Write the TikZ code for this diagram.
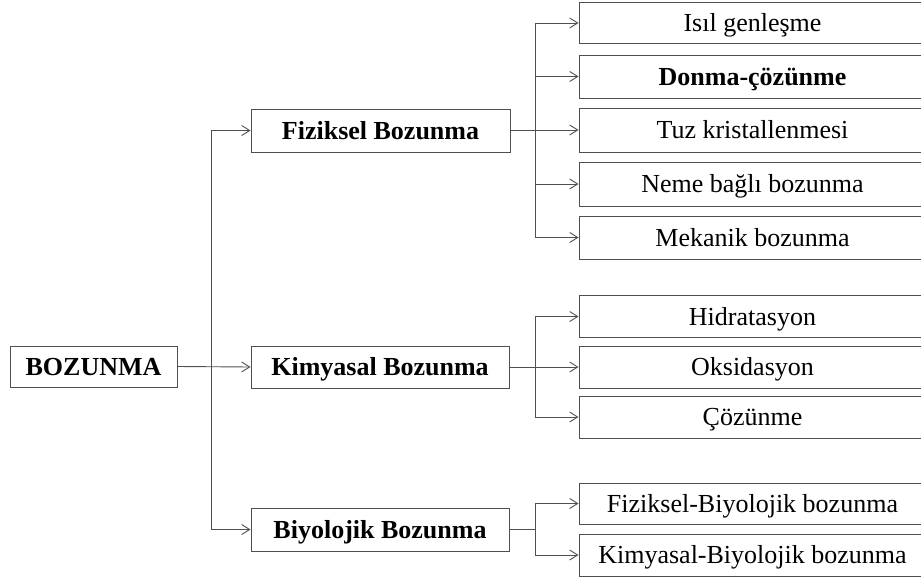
\documentclass[tikz,border=0pt]{standalone}
\usepackage{fontspec}
\setmainfont{Liberation Serif}
\usetikzlibrary{arrows.meta}
\definecolor{linec}{HTML}{505050}
\tikzset{
  box/.style={draw=linec, line width=1pt, rectangle, inner sep=0pt, font=\fontsize{26}{30}\selectfont, text=black, text height=17pt, text depth=-1pt},
  mainbox/.style={box, font=\fontsize{26}{30}\selectfont\bfseries},
  leaf/.style={box, minimum width=347pt},
  conn/.style={draw=linec, line width=0.9pt},
  arr/.style={conn, -{Straight Barb[length=8pt,width=10pt,line width=0.9pt]}}
}
\begin{document}
\begin{tikzpicture}[x=1pt,y=-1pt]
\path[use as bounding box] (0,0) rectangle (921,581);
\clip (0,0) rectangle (921,581);
\fill[white] (0,0) rectangle (921,581);

\node[mainbox, minimum width=167pt, minimum height=41pt] (bz) at (93.5,366.5) {BOZUNMA};
\node[mainbox, minimum width=259pt, minimum height=43pt] (fb) at (380.5,130.5) {Fiziksel Bozunma};
\node[mainbox, minimum width=258pt, minimum height=42pt] (kb) at (380,367) {Kimyasal Bozunma};
\node[mainbox, minimum width=258pt, minimum height=43pt] (bb) at (380,529.5) {Biyolojik Bozunma};

\node[leaf, minimum height=41pt] (c1) at (752.5,23) {Isıl genleşme};
\node[leaf, minimum height=43pt, font=\fontsize{26}{30}\selectfont\bfseries] (c2) at (752.5,76.5) {Donma-çözünme};
\node[leaf, minimum height=44pt] (c3) at (752.5,130) {Tuz kristallenmesi};
\node[leaf, minimum height=44pt] (c4) at (752.5,184) {Neme bağlı bozunma};
\node[leaf, minimum height=43pt] (c5) at (752.5,237.5) {Mekanik bozunma};

\node[leaf, minimum height=42pt] (k1) at (752.5,316.5) {Hidratasyon};
\node[leaf, minimum height=42pt] (k2) at (752.5,367) {Oksidasyon};
\node[leaf, minimum height=42pt] (k3) at (752.5,417) {Çözünme};

\node[leaf, minimum height=41pt] (b1) at (752.5,503.5) {Fiziksel-Biyolojik bozunma};
\node[leaf, minimum height=42pt] (b2) at (752.5,555) {Kimyasal-Biyolojik bozunma};

\coordinate (t) at (211,367);
\draw[arr] (bz.east) -- (kb.west);
\draw[arr] (t) |- (fb.west);
\draw[arr] (t) |- (bb.west);

\coordinate (f) at (535,130.5);
\draw[conn] (fb.east) -- (f);
\foreach \n in {c1,c2,c3,c4,c5} \draw[arr] (f) |- (\n.west);

\coordinate (k) at (535,367);
\draw[conn] (kb.east) -- (k);
\foreach \n in {k1,k2,k3} \draw[arr] (k) |- (\n.west);

\coordinate (b) at (535,529.5);
\draw[conn] (bb.east) -- (b);
\foreach \n in {b1,b2} \draw[arr] (b) |- (\n.west);
\end{tikzpicture}
\end{document}
